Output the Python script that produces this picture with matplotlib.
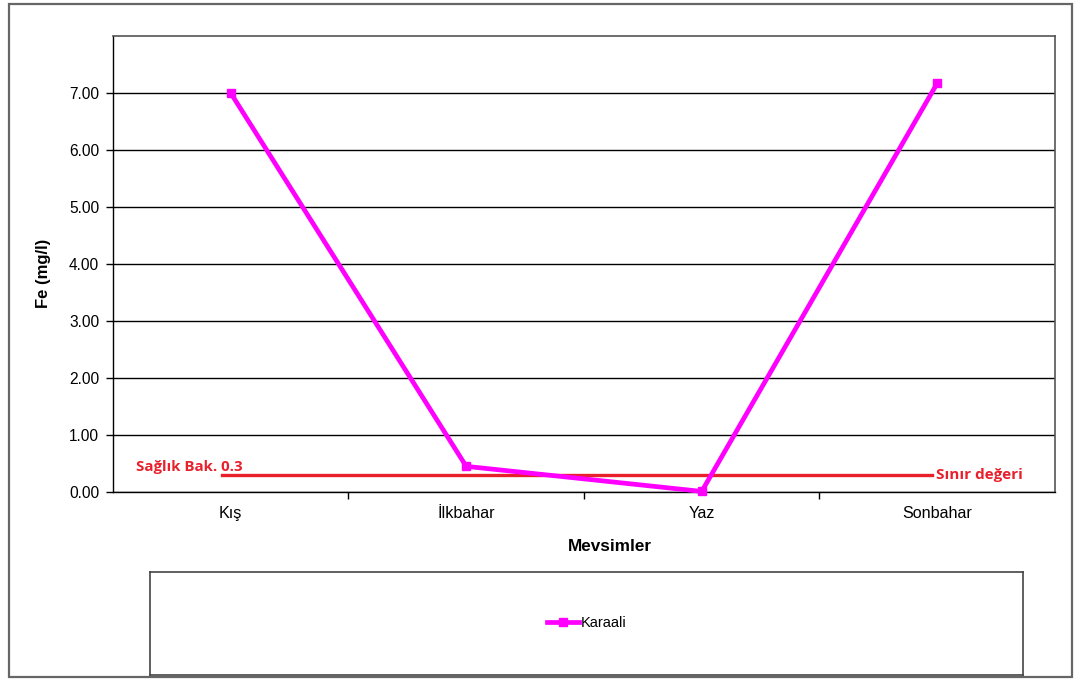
import matplotlib
matplotlib.use("Agg")
import matplotlib.pyplot as plt
from matplotlib.patches import Rectangle
from matplotlib.lines import Line2D

plt.rcParams["font.family"] = ["Liberation Sans", "DejaVu Sans"]

seasons = ["Kış", "İlkbahar", "Yaz", "Sonbahar"]
fe_values = [7.00, 0.45, 0.01, 7.17]
limit_value = 0.3
y_ticks = [0, 1, 2, 3, 4, 5, 6, 7]
series_name = "Karaali"

MAGENTA = "#ff00ff"
RED = "#e8202c"


def main() -> None:
    fig = plt.figure(figsize=(10.82, 6.82), dpi=100)

    # outer chart frame
    fig.patches.append(
        Rectangle((0.0083, 0.0073), 0.9824, 0.9868, transform=fig.transFigure,
                  fill=False, edgecolor="#666666", linewidth=1.6)
    )

    ax = fig.add_axes([0.1044, 0.2786, 0.8706, 0.6686])
    x = list(range(len(seasons)))
    ax.plot(x, fe_values, color=MAGENTA, linewidth=3.4, marker="s",
            markersize=6, label=series_name, zorder=4, clip_on=False)

    ax.set_xlim(-0.5, len(seasons) - 0.5)
    ax.set_ylim(0, 8)
    ax.set_yticks(y_ticks)
    ax.set_yticklabels([f"{v:.2f}" for v in y_ticks])
    ax.yaxis.grid(True, color="black", linewidth=1.0)
    ax.set_axisbelow(True)

    ax.set_xticks([i + 0.5 for i in range(len(seasons) - 1)])
    ax.set_xticklabels([])
    ax.set_xticks(x, minor=True)
    ax.set_xticklabels(seasons, minor=True)
    ax.tick_params(axis="x", which="major", length=5, width=1, color="black")
    ax.tick_params(axis="x", which="minor", length=0, pad=10, labelsize=11.6)
    ax.tick_params(axis="y", length=5, width=1, pad=5, labelsize=11.2)

    for side in ("left", "bottom"):
        ax.spines[side].set_color("black")
        ax.spines[side].set_linewidth(1.0)
    for side in ("top", "right"):
        ax.spines[side].set_color("#555555")
        ax.spines[side].set_linewidth(1.2)

    ax.set_xlabel("Mevsimler", fontsize=12.3, fontweight="bold")
    ax.xaxis.set_label_coords(0.527, -0.102)
    ax.set_ylabel("Fe (mg/l)", fontsize=12, fontweight="bold")
    ax.yaxis.set_label_coords(-0.066, 0.48)

    # limit line with annotations
    ax.axhline(limit_value, xmin=0.116, xmax=0.869, color=RED, linewidth=2.4,
               zorder=3)
    label_font = ["Open Sans", "DejaVu Sans"]
    ax.text(0.024, limit_value + 0.14, f"Sağlık Bak. {limit_value}",
            transform=ax.get_yaxis_transform(), color=RED, fontsize=10.8,
            fontweight="bold", family=label_font, va="center", ha="left")
    ax.text(0.874, limit_value, "Sınır değeri",
            transform=ax.get_yaxis_transform(), color=RED, fontsize=11,
            fontweight="bold", family=label_font, va="center", ha="left",
            clip_on=False)

    # legend box
    lax = fig.add_axes([0.1386, 0.0103, 0.8068, 0.151])
    lax.set_xticks([])
    lax.set_yticks([])
    for spine in lax.spines.values():
        spine.set_color("#444444")
        spine.set_linewidth(1.2)
    handle = Line2D([], [], color=MAGENTA, linewidth=3.4, marker="s",
                    markersize=6)
    lax.legend([handle], [series_name], loc="center", frameon=False,
               handlelength=2.2, handletextpad=0.1,
               prop={"family": ["Liberation Sans Narrow", "Liberation Sans"],
                     "size": 10.5})

    fig.savefig("out.png", dpi=100)


if __name__ == "__main__":
    main()
